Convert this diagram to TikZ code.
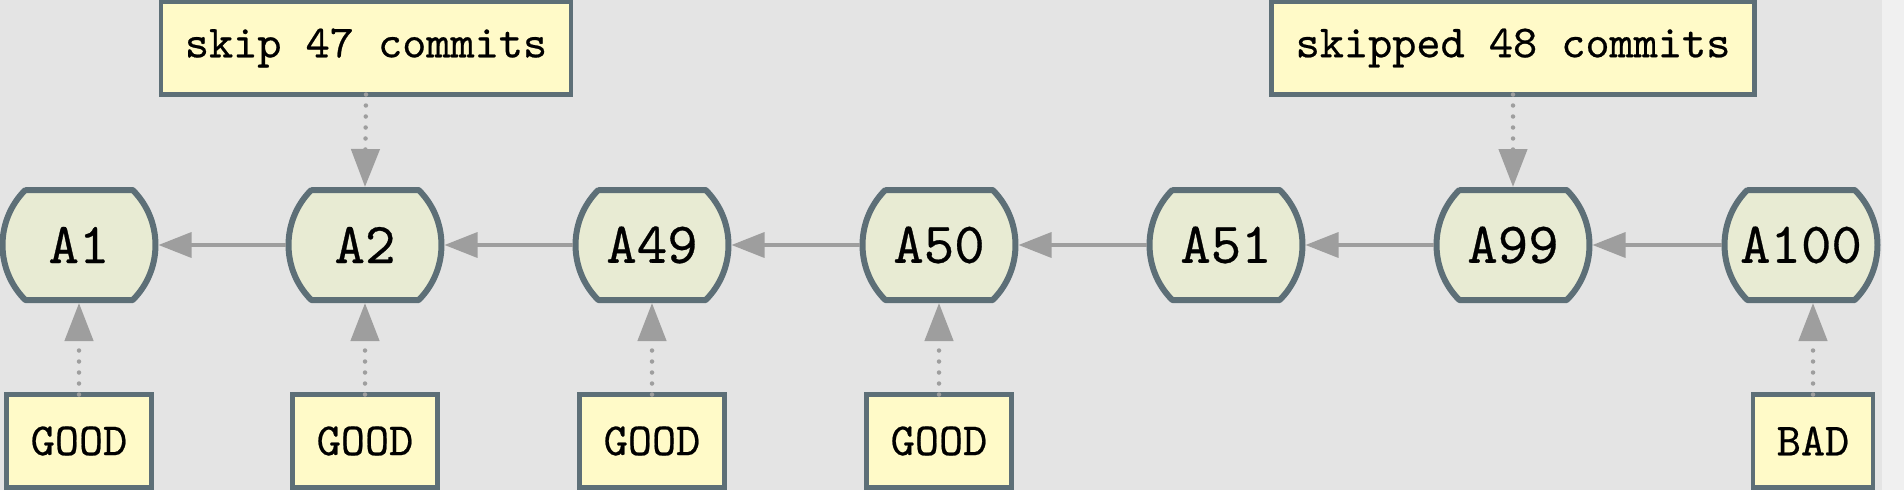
\documentclass[tikz,border=0pt]{standalone}
\usepackage{fontspec}
\usetikzlibrary{arrows.meta}
\newfontfamily\heavytt{lmmono10-regular.otf}[FakeBold=0.5]
\definecolor{bgcol}{RGB}{228,228,228}
\definecolor{commitfill}{RGB}{232,235,211}
\definecolor{edgecol}{RGB}{93,111,119}
\definecolor{notefill}{RGB}{255,250,200}
\definecolor{arrowcol}{RGB}{158,158,158}
\newcommand\commitfont{\fontsize{58}{60}\selectfont\heavytt}
\newcommand\notefont{\fontsize{46}{50}\selectfont\heavytt}
\tikzset{
  commit/.style={minimum width=153pt, minimum height=110pt, inner sep=0pt, outer sep=3pt, font=\commitfont},
  commitline/.style={draw=edgecol, fill=commitfill, line width=6pt, line join=round},
  note/.style={draw=edgecol, fill=notefill, line width=4.5pt, minimum height=93pt, inner xsep=24pt, outer sep=0pt, font=\notefont},
  parent/.style={draw=arrowcol, line width=3.5pt, -{Triangle[length=33pt,width=25pt,fill=arrowcol]}},
  marker/.style={draw=arrowcol, line width=4.5pt, dash pattern=on 0pt off 11pt, line cap=round, -{Triangle[length=38pt,width=28pt,fill=arrowcol]}},
}
\begin{document}
\begin{tikzpicture}[x=1pt,y=1pt,yscale=-1,xscale=1]
        %Background
        \fill[bgcol] (0,0) rectangle (1904,490);
        \useasboundingbox (0,0) rectangle (1904,490);
        %Shape: Commits
        \foreach \name/\x in {A1/79,A2/365,A49/652,A50/939,A51/1226,A99/1513,A100/1801}{
          \draw[commitline] (\x-53.7,190) -- (\x+53.7,190) arc[start angle=-45,end angle=45,radius=77.8] -- (\x-53.7,300) arc[start angle=135,end angle=225,radius=77.8] -- cycle ;
          \node (\name) [commit] at (\x,245) {\name};
        }
        % Text Node
        \node (skip) [note] at (366,48) {skip 47 commits};
        % Text Node
        \node (skipped) [note] at (1513,48) {skipped 48 commits};
        % Text Node
        \node (good1) [note] at (79,441) {GOOD};
        % Text Node
        \node (good2) [note] at (365,441) {GOOD};
        % Text Node
        \node (good3) [note] at (652,441) {GOOD};
        % Text Node
        \node (good4) [note] at (939,441) {GOOD};
        % Text Node
        \node (bad) [note] at (1813,441) {BAD};
        %Straight Lines
        \draw[parent] (A2.west) -- (A1.east) ;
        \draw[parent] (A49.west) -- (A2.east) ;
        \draw[parent] (A50.west) -- (A49.east) ;
        \draw[parent] (A51.west) -- (A50.east) ;
        \draw[parent] (A99.west) -- (A51.east) ;
        \draw[parent] (A100.west) -- (A99.east) ;
        %Dotted Lines
        \draw[marker] (skip.south) -- (A2.north) ;
        \draw[marker] (skipped.south) -- (A99.north) ;
        \draw[marker] (good1.north) -- (A1.south) ;
        \draw[marker] (good2.north) -- (A2.south) ;
        \draw[marker] (good3.north) -- (A49.south) ;
        \draw[marker] (good4.north) -- (A50.south) ;
        \draw[marker] (bad.north) -- (bad.north|-A100.south) ;
        %Faded edge
        \fill[white, fill opacity=0.45] (1882,0) rectangle (1904,490);
\end{tikzpicture}
\end{document}
